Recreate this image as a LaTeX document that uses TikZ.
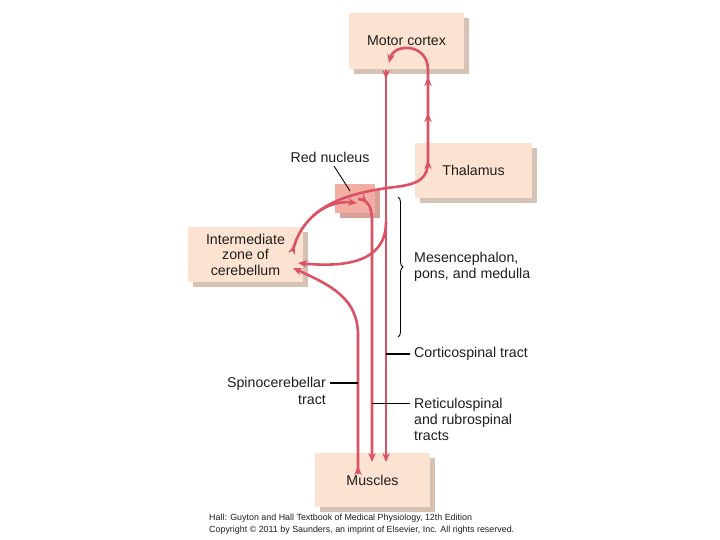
\documentclass[tikz,border=0pt]{standalone}
\usepackage{fontspec}
\setmainfont{Liberation Sans}
\usetikzlibrary{arrows.meta,decorations.pathreplacing,decorations.markings,shadows}
\definecolor{boxc}{RGB}{252,226,208}
\definecolor{shadc}{RGB}{214,194,180}
\definecolor{rnc}{RGB}{243,174,164}
\definecolor{rnshad}{RGB}{214,162,152}
\definecolor{linec}{RGB}{218,82,100}
\definecolor{txt}{RGB}{30,30,30}
\tikzset{barb/.tip={Stealth[length=9pt,width=7.5pt,inset=3pt]}}
\begin{document}
\begin{tikzpicture}[x=1pt,y=-1pt,
  box/.style={fill=boxc, general shadow={fill=shadc, shadow xshift=5pt, shadow yshift=-5pt},
    inner sep=0pt, align=center, text=txt, font=\fontsize{14.2}{15.5}\selectfont},
  rnbox/.style={fill=rnc, general shadow={fill=rnshad, shadow xshift=5pt, shadow yshift=-5pt}, inner sep=0pt},
  tract/.style={color=linec, line width=2.6pt},
  lbl/.style={font=\fontsize{14.2}{16.2}\selectfont, inner sep=0pt, text=txt},
  lead/.style={draw=black, line width=1.3pt},
  marks/.style={postaction={decorate, decoration={markings, #1}}},
]
\useasboundingbox (0,0) rectangle (720,540);
\fill[white] (0,0) rectangle (720,540);

% boxes
\node[box, minimum width=115pt, minimum height=56pt] (motor) at (406.5,41) {Motor cortex};
\node[box, minimum width=117pt, minimum height=55pt] (thal) at (473.5,170.5) {Thalamus};
\node[rnbox, minimum width=40pt, minimum height=29pt] (rn) at (355,198.5) {};
\node[box, minimum width=115pt, minimum height=55pt] (cereb) at (245.5,254.5) {Intermediate\\zone of\\cerebellum};
\node[box, minimum width=115pt, minimum height=54pt] (musc) at (372.5,480) {Muscles};

% connector end points
\coordinate (cs0) at (386,70);
\coordinate (cs1) at (386,462);
\coordinate (rs0) at (358,199);
\coordinate (rs1) at (372,462);
\coordinate (sc0) at (358,474);
\coordinate (sc1) at (293,268);
\coordinate (ct0) at (293,250);
\coordinate (ct1) at (389,63);
\coordinate (th0) at (428,168);
\coordinate (th1) at (428,70);
\coordinate (br0) at (313,216);
\coordinate (br1) at (357,203);
\coordinate (col0) at (386,222);
\coordinate (col1) at (298,263);

% corticospinal tract
\draw[tract, -{barb}, marks={mark=at position 9pt with {\arrow{barb}}}] (cs0) -- (cs1);
% collateral to cerebellum
\draw[tract, -{barb}] (col0) .. controls (386,260) and (350,268) .. (col1);
% rubrospinal
\draw[tract, -{barb}, marks={mark=at position 10pt with {\arrow{barb}}}]
  (rs0) .. controls (368,200) and (372,206) .. (372,222) -- (rs1);
% spinocerebellar
\draw[tract, -{barb}, marks={mark=at position 8pt with {\arrow{barb}}}]
  (sc0) -- (358,335) .. controls (358,298) and (330,285) .. (sc1);
% cerebellum -> thalamus -> motor cortex
\draw[tract, -{barb}, marks={mark=at position 5pt with {\arrow{barb}}}]
  (ct0) .. controls (303,212) and (335,194) .. (395,187)
        .. controls (420,184) and (428,178) .. (428,160) -- (th1)
        .. controls (428,43) and (394,43) .. (ct1);
% arrowheads along the ascending thalamocortical part
\path[tract, marks={mark=at position 8pt with {\arrow{barb}},
   mark=at position 55pt with {\arrow{barb}},
   mark=at position 91pt with {\arrow{barb}}}] (th0) -- (th1);
% branch to red nucleus
\draw[tract, -{barb}] (br0) .. controls (325,205) and (340,201) .. (br1);

% labels
\node[lbl] (rnlab) at (330,157) {Red nucleus};
\draw[black, line width=0.9pt] (334,166) -- (350,191);

\draw[black, line width=0.9pt, decorate, decoration={brace, amplitude=5pt}] (398,197) -- (398,337);
\node[lbl, anchor=west, align=left] (meso) at (414,267) {Mesencephalon,\\pons, and medulla};

\node[lbl, anchor=west] (cst) at (414,354) {Corticospinal tract};
\draw[lead] (386,354) -- (410,354);

\node[lbl, anchor=east, align=right] (spino) at (326,391) {Spinocerebellar\\tract};
\draw[lead] (330,383) -- (358,383);

\node[lbl, anchor=west, align=left] (reti) at (414,419.5) {Reticulospinal\\and rubrospinal\\tracts};
\draw[black, line width=0.7pt] (372,403) -- (410,403);

\node[anchor=north west, align=left, inner sep=0pt, text=txt, font=\fontsize{8.9}{12}\selectfont] (foot) at (209,514)
 {Hall: Guyton and Hall Textbook of Medical Physiology, 12th Edition\\Copyright © 2011 by Saunders, an imprint of Elsevier, Inc. All rights reserved.};
\end{tikzpicture}
\end{document}
